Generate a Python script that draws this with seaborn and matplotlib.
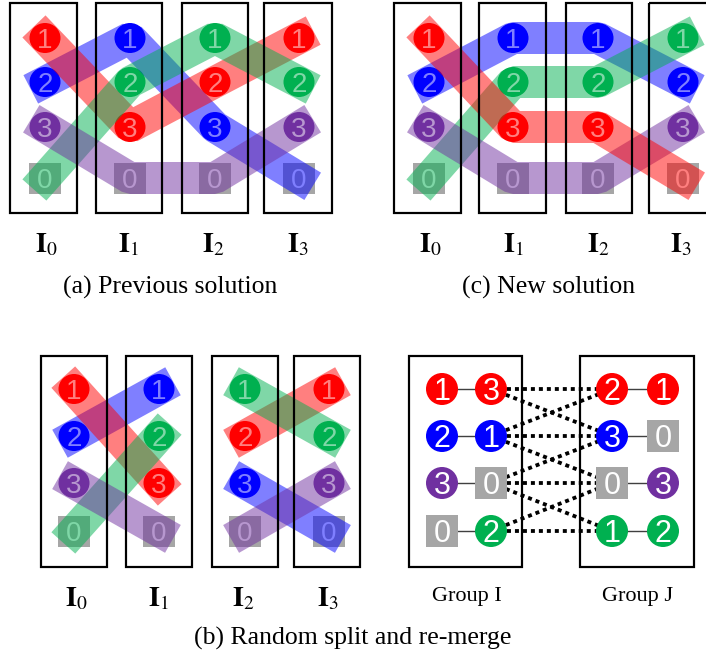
import matplotlib
matplotlib.use("Agg")
import matplotlib.pyplot as plt
import seaborn as sns
import numpy as np
from matplotlib.patches import Ellipse, Rectangle

# ---------------- data ----------------
row_labels = ["1", "2", "3", "0"]
palette = {"red": "#FF0000", "blue": "#0000FF", "green": "#00B050",
           "purple": "#7030A0", "gray": "#A6A6A6"}

part_labels = [r"$\mathbf{I}_{0}$", r"$\mathbf{I}_{1}$", r"$\mathbf{I}_{2}$", r"$\mathbf{I}_{3}$"]

# node colours of rows "1","2","3" in each part (row "0" is the grey square)
prev_nodes = [["red", "blue", "purple"], ["blue", "green", "red"],
              ["green", "red", "blue"], ["red", "green", "purple"]]
new_nodes = [["red", "blue", "purple"], ["blue", "green", "red"],
             ["blue", "green", "red"], ["green", "blue", "purple"]]

# row label visited by each colour band, part by part (drawing order = list order)
prev_paths = [("blue", ["2", "1", "3", "0"]), ("red", ["1", "3", "2", "1"]),
              ("green", ["0", "2", "1", "2"]), ("purple", ["3", "0", "0", "3"])]
new_paths = [("blue", ["2", "1", "1", "2"]), ("green", ["0", "2", "2", "1"]),
             ("purple", ["3", "0", "0", "3"]), ("red", ["1", "3", "3", "0"])]
split_pairs = [(0, 1), (2, 3)]

group_I = [[("red", "1"), ("red", "3")], [("blue", "2"), ("blue", "1")],
           [("purple", "3"), ("gray", "0")], [("gray", "0"), ("green", "2")]]
group_J = [[("red", "2"), ("red", "1")], [("blue", "3"), ("gray", "0")],
           [("gray", "0"), ("purple", "3")], [("green", "1"), ("green", "2")]]
group_links = [(0, 0), (0, 1), (1, 0), (1, 1), (1, 2), (2, 1), (2, 2), (2, 3), (3, 2), (3, 3)]
group_names = ["Group I", "Group J"]

captions = ["(a) Previous solution", "(c) New solution", "(b) Random split and re-merge"]

# ---------------- layout ----------------
sns.set_theme(style="white")
plt.rcParams["font.family"] = ["Liberation Serif", "DejaVu Sans"]
plt.rcParams["mathtext.fontset"] = "stix"
plt.rcParams["text.color"] = "black"

fig = plt.figure(figsize=(7.06, 6.56), dpi=100)
ax = fig.add_axes([0, 0, 1, 1])

PX = 72 / 100.0  # px -> pt
BAND_LW = 32 * PX

rows_top = [38, 82, 127, 178]
rows_bot = [389, 436, 483, 531]


def node(x, y, color, label, ew=31, eh=30, sq=(32, 31), digit_pt=20, z=2):
    if color == "gray":
        ax.add_patch(Rectangle((x - sq[0] / 2, y - sq[1] / 2), sq[0], sq[1],
                               fc=palette["gray"], ec="none", zorder=z))
    else:
        ax.add_patch(Ellipse((x, y), ew, eh, fc=palette[color], ec="none", zorder=z))
    half = 0.716 * digit_pt / PX / 2
    ax.text(x, y + half, label, color="white", fontsize=digit_pt, ha="center",
            va="baseline", family="Liberation Sans", zorder=z + 0.5)


def draw_parts(colx, boxes, rows, box_y, nodes, label_x, label_y):
    for k, cx in enumerate(colx):
        for r in range(3):
            node(cx, rows[r], nodes[k][r], row_labels[r])
        node(cx, rows[3], "gray", "0")
        x0, x1 = boxes[k]
        ax.add_patch(Rectangle((x0, box_y[0]), x1 - x0, box_y[1] - box_y[0],
                               fill=False, ec="black", lw=2.2 * PX, zorder=6))
        ax.text(label_x[k], label_y, part_labels[k], fontsize=20, ha="center",
                va="baseline", color="black")


def band(xs, ys, color):
    sns.lineplot(x=xs, y=ys, color=palette[color], lw=BAND_LW, alpha=0.5,
                 estimator=None, sort=False, ax=ax, zorder=4,
                 solid_capstyle="projecting", solid_joinstyle="bevel")


# panel (a)
colx_a = [45, 130, 215, 299]
boxes_a = [(10, 77), (96, 162), (182, 248), (264, 332)]
draw_parts(colx_a, boxes_a, rows_top, (3, 213), prev_nodes, [46, 128, 213, 298], 252)
for color, path in prev_paths:
    band(colx_a, [rows_top[row_labels.index(l)] for l in path], color)

# panel (c)
colx_c = [429, 513, 598, 683]
boxes_c = [(394, 461), (479, 546), (566, 632), (649, 716)]
draw_parts(colx_c, boxes_c, rows_top, (3, 213), new_nodes, [430, 513, 598, 681], 252)
for color, path in new_paths:
    band(colx_c, [rows_top[row_labels.index(l)] for l in path], color)

# panel (b) left
colx_b = [74, 159, 245, 329]
boxes_b = [(41, 107), (126, 192), (212, 278), (294, 360)]
draw_parts(colx_b, boxes_b, rows_bot, (356, 567), prev_nodes, [76, 158, 243, 328], 606)
for color, path in prev_paths:
    for a, b in split_pairs:
        band([colx_b[a], colx_b[b]],
             [rows_bot[row_labels.index(path[a])], rows_bot[row_labels.index(path[b])]], color)

# panel (b) right: groups
gI_x = [442, 491]
gJ_x = [612, 663]
for gx, grp in ((gI_x, group_I), (gJ_x, group_J)):
    for r, pair in enumerate(grp):
        sns.lineplot(x=gx, y=[rows_bot[r], rows_bot[r]], color="#404040",
                     lw=1.4 * PX, estimator=None, sort=False, ax=ax, zorder=1)
        for (c, lab), x in zip(pair, gx):
            node(x, rows_bot[r], c, lab, ew=32, eh=32, sq=(32, 32), digit_pt=22)
for i, j in group_links:
    sns.lineplot(x=[gI_x[1], gJ_x[0]], y=[rows_bot[i], rows_bot[j]], color="black",
                 lw=3.8 * PX, ls=(0, (1.05, 1.05)), estimator=None, sort=False,
                 ax=ax, zorder=1, dash_capstyle="butt")
ax.add_patch(Rectangle((409, 356), 113, 211, fill=False, ec="black", lw=2.2 * PX, zorder=6))
ax.add_patch(Rectangle((580, 356), 114, 211, fill=False, ec="black", lw=2.2 * PX, zorder=6))
ax.text(467, 601, group_names[0], fontsize=16, ha="center", va="baseline", color="black")
ax.text(638, 601, group_names[1], fontsize=16, ha="center", va="baseline", color="black")

# captions
ax.text(170, 294, captions[0], fontsize=18.5, ha="center", va="baseline", color="black")
ax.text(549, 294, captions[1], fontsize=18.5, ha="center", va="baseline", color="black")
ax.text(353, 645, captions[2], fontsize=18.5, ha="center", va="baseline", color="black")

ax.set_xlim(0, 706)
ax.set_ylim(656, 0)
ax.axis("off")
fig.savefig("out.png", dpi=100)
